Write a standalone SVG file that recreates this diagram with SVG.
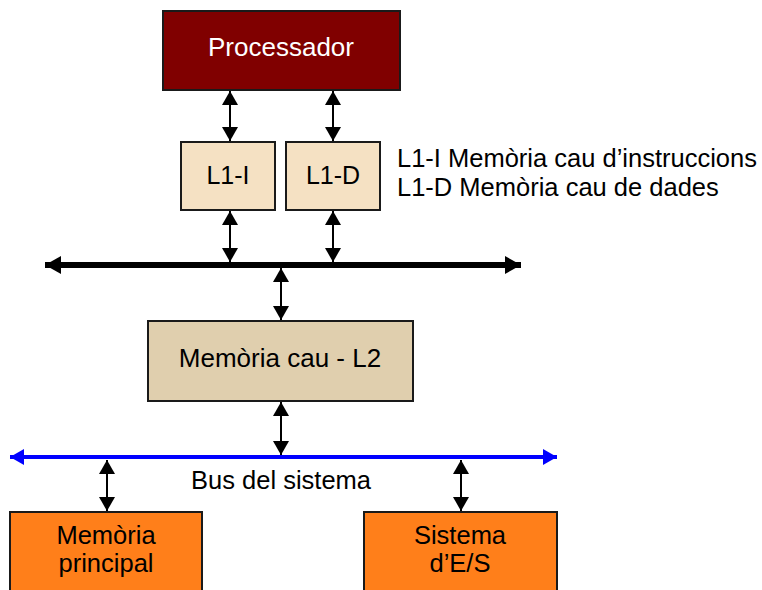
<svg xmlns="http://www.w3.org/2000/svg" width="762" height="590" viewBox="0 0 762 590">
<defs>
<marker id="ah" viewBox="0 0 14 16" refX="14" refY="8" markerWidth="14" markerHeight="16" markerUnits="userSpaceOnUse" orient="auto-start-reverse"><path d="M0,0 L14,8 L0,16 z" fill="#000"/></marker>
<marker id="bh" viewBox="0 0 16 18" refX="16" refY="9" markerWidth="16" markerHeight="18" markerUnits="userSpaceOnUse" orient="auto-start-reverse"><path d="M0,0 L16,9 L0,18 z" fill="#000"/></marker>
<marker id="blh" viewBox="0 0 14 16" refX="14" refY="8" markerWidth="14" markerHeight="16" markerUnits="userSpaceOnUse" orient="auto-start-reverse"><path d="M0,0 L14,8 L0,16 z" fill="#0000FF"/></marker>
</defs>
<style>
.box{stroke:#1a1a1a;stroke-width:2}
.t{font-family:"Liberation Sans",Arial,sans-serif;font-size:25.5px;fill:#000;text-anchor:middle}
.c{stroke:#000;stroke-width:2;fill:none;marker-start:url(#ah);marker-end:url(#ah)}
</style>
<g id="processador">
<rect class="box" x="163" y="11" width="237" height="79" fill="#800000"/>
<text class="t" x="281" y="56" style="fill:#fff;font-size:26px">Processador</text>
</g>
<g id="l1i">
<rect class="box" x="181" y="142" width="94" height="68" fill="#F5E1C3"/>
<text class="t" x="228" y="184" style="font-size:25px">L1-I</text>
</g>
<g id="l1d">
<rect class="box" x="286" y="142" width="94" height="68" fill="#F5E1C3"/>
<text class="t" x="333" y="184" style="font-size:25px">L1-D</text>
</g>
<g id="legend">
<text class="t" x="397" y="167" style="text-anchor:start">L1-I Memòria cau d’instruccions</text>
<text class="t" x="397" y="196" style="text-anchor:start">L1-D Memòria cau de dades</text>
</g>
<g id="l2">
<rect class="box" x="148" y="321" width="265" height="80" fill="#E0CFAE"/>
<text class="t" x="280" y="367" style="font-size:26px">Memòria cau - L2</text>
</g>
<g id="memoria-principal">
<rect class="box" x="10" y="512" width="192" height="86" fill="#FF7F1A"/>
<text class="t" x="106" y="544">Memòria</text>
<text class="t" x="106" y="572">principal</text>
</g>
<g id="sistema-es">
<rect class="box" x="364" y="512" width="193" height="86" fill="#FF7F1A"/>
<text class="t" x="460" y="544">Sistema</text>
<text class="t" x="460" y="572">d’E/S</text>
</g>
<g id="bus-label">
<text class="t" x="281" y="489">Bus del sistema</text>
</g>
<g id="connectors">
<line x1="45" y1="265" x2="521" y2="265" stroke="#000" stroke-width="6" marker-start="url(#bh)" marker-end="url(#bh)"/>
<line x1="10" y1="457" x2="557" y2="457" stroke="#0000FF" stroke-width="4" marker-start="url(#blh)" marker-end="url(#blh)"/>
<line class="c" x1="230" y1="91" x2="230" y2="141"/>
<line class="c" x1="333" y1="91" x2="333" y2="141"/>
<line class="c" x1="230" y1="211" x2="230" y2="262"/>
<line class="c" x1="333" y1="211" x2="333" y2="262"/>
<line class="c" x1="281" y1="268" x2="281" y2="320"/>
<line class="c" x1="281" y1="402" x2="281" y2="455"/>
<line class="c" x1="107" y1="460" x2="107" y2="511"/>
<line class="c" x1="461" y1="460" x2="461" y2="511"/>
</g>
</svg>
